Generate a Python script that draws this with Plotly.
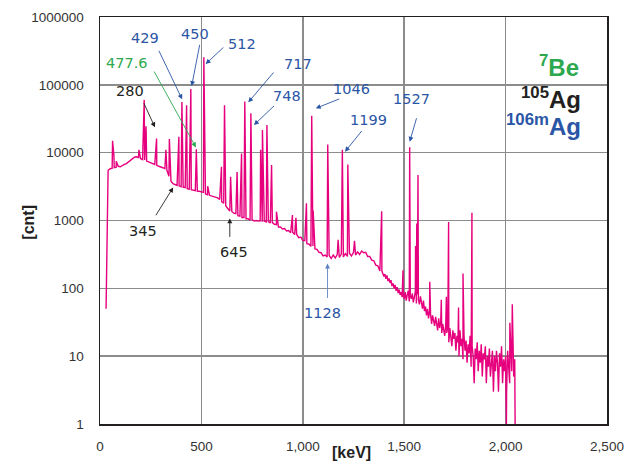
import plotly.graph_objects as go

# ---------------- data ----------------
# continuum channels: every 10 keV up to 1390, every 5 keV above
cont_kev = list(range(30, 1400, 10)) + list(range(1400, 2050, 5))
cont_cnt = [
    50, 5500, 5800, 5900, 6000, 6100, 6300, 6200, 6500, 6700,        # 30-120
    6900, 7300, 7600, 8000, 8600, 8700, 8500, 8200, 7900, 7800,      # 130-220
    7500, 7300, 7100, 6900, 6700, 6500, 6300, 6200, 6000, 5800,      # 230-320
    5500, 4500, 3800, 3500, 3400, 3300, 3250, 3150, 3100, 3050,      # 330-420
    2950, 2900, 2850, 2800, 2750, 2700, 2700, 2650, 2600, 2450,      # 430-520
    2400, 2350, 2300, 2250, 2200, 2150, 2050, 1900, 1800, 1650,      # 530-620
    1500, 1380, 1360, 1280, 1260, 1180, 1160, 1110, 1110, 1060,      # 630-720
    1060, 1010, 1030, 980, 1000, 980, 990, 960, 980, 950,            # 730-820
    960, 920, 930, 880, 870, 800, 800, 750, 760, 700,                # 830-920
    710, 660, 670, 620, 620, 560, 570, 510, 505, 455,                # 930-1020
    450, 415, 420, 380, 375, 340, 335, 300, 310, 290,                # 1030-1120
    305, 275, 310, 280, 315, 285, 320, 290, 325, 295,                # 1130-1220
    330, 300, 340, 310, 345, 315, 355, 335, 340, 295,                # 1230-1320
    295, 260, 255, 220, 215, 180, 180,                               # 1330-1390
    150, 162, 138, 155, 128, 140, 120, 132, 108, 118,                # 1400-1445
    100, 112, 92, 104, 85, 96, 80, 88, 74, 84,                       # 1450-1495
    70, 88, 66, 80, 92, 64, 78, 70, 84, 62,                          # 1500-1545
    74, 90, 60, 82, 68, 58, 76, 62, 50, 66,                          # 1550-1595
    46, 54, 40, 50, 36, 46, 42, 30, 40, 34,                          # 1600-1645
    28, 38, 30, 24, 36, 26, 32, 22, 30, 24,                          # 1650-1695
    20, 30, 22, 28, 16, 26, 20, 14, 24, 18,                          # 1700-1745
    22, 12, 20, 16, 10, 24, 14, 18, 9, 20,                           # 1750-1795
    12, 17, 8, 15, 11, 20, 7, 14, 10, 4,                             # 1800-1845
    13, 9, 16, 6, 12, 8, 15, 5, 11, 9,                               # 1850-1895
    14, 4, 10, 7, 13, 5, 9, 12, 3, 10,                               # 1900-1945
    6, 12, 8, 3, 11, 7, 14, 4, 9, 6,                                 # 1950-1995
    10, 3, 12, 7, 4, 13, 6, 18, 5, 9,                                # 2000-2045
]

# photopeaks (energy keV, peak counts)
peak_kev = [62, 69, 80, 192, 218, 227, 279, 325, 342, 389, 404, 427, 448,
            475, 512, 531, 599, 614, 644, 676, 698, 714, 744, 792, 801, 823,
            846, 870, 949, 966, 1018, 1044, 1051, 1123, 1174, 1195, 1222,
            1255, 1389, 1494, 1527, 1556, 1562, 1568, 1626, 1683, 1708, 1719,
            1768, 1790, 1834, 2021, 2033]
peak_cnt = [15000, 8700, 7500, 11000, 60000, 24500, 16200, 11000, 15900,
            17200, 56000, 50000, 87000, 11200, 254000, 3200, 6200, 50000,
            4400, 5200, 9700, 57000, 38000, 11000, 21600, 25600, 6600, 1350,
            1200, 1100, 1800, 35000, 1400, 13200, 520, 11000, 6700, 500, 1370,
            185, 12000, 420, 900, 4700, 125, 68, 75, 950, 52, 165, 1300, 31, 58]

# deep dips at the high-energy end
dip_kev = [2004, 2047]
dip_cnt = [1, 1]

x_ticks = [0, 500, 1000, 1500, 2000, 2500]
x_ticktext = ["0", "500", "1,000", "1,500", "2,000", "2,500"]
y_ticks = [1, 10, 100, 1000, 10000, 100000, 1000000]
y_ticktext = ["1", "10", "100", "1000", "10000", "100000", "1000000"]

# ---------------- build spectrum ----------------
pts = sorted(zip(cont_kev + peak_kev + dip_kev, cont_cnt + peak_cnt + dip_cnt),
             key=lambda p: p[0])
xs = [p[0] for p in pts]
ys = [p[1] for p in pts]

fig = go.Figure()
fig.add_trace(go.Scatter(x=xs, y=ys, mode="lines",
                         line=dict(color="#E6007E", width=1.4),
                         showlegend=False, hoverinfo="skip"))

BLUE = "#2B55A5"
GREEN = "#2EA84F"
DARK = "#231F20"
LBLUE = "#5A82C4"
FONT = "DejaVu Sans"

# text labels: (text, x keV, log10 y, color)
labels = [
    ("429", 222, 5.690, BLUE),
    ("450", 468, 5.749, BLUE),
    ("512", 700, 5.602, BLUE),
    ("477.6", 133, 5.322, GREEN),
    ("280", 148, 4.909, DARK),
    ("717", 975, 5.307, BLUE),
    ("748", 921, 4.835, BLUE),
    ("1046", 1241, 4.938, BLUE),
    ("1199", 1325, 4.481, BLUE),
    ("1527", 1537, 4.791, BLUE),
    ("345", 212, 2.844, DARK),
    ("645", 660, 2.534, DARK),
    ("1128", 1098, 1.634, BLUE),
]
for t, x, y, c in labels:
    fig.add_annotation(x=x, y=y, xref="x", yref="y", text=t, showarrow=False,
                       font=dict(family=FONT, size=14.5, color=c),
                       xanchor="center", yanchor="middle")

# arrows: (tail x, tail y, head x, head y, color)
arrows = [
    (287, 5.524, 405, 4.786, BLUE),
    (493, 5.612, 452, 4.982, BLUE),
    (616, 5.572, 521, 5.307, BLUE),
    (263, 5.218, 473, 4.078, GREEN),
    (213, 4.751, 271, 4.373, DARK),
    (862, 5.204, 731, 4.742, BLUE),
    (866, 4.712, 759, 4.407, BLUE),
    (1187, 4.801, 1064, 4.653, BLUE),
    (1297, 4.344, 1208, 4.013, BLUE),
    (1563, 4.530, 1527, 4.161, BLUE),
    (271, 3.055, 361, 3.488, DARK),
    (640, 2.736, 640, 3.031, DARK),
    (1122, 1.836, 1122, 2.367, LBLUE),
]
for ax, ay, hx, hy, c in arrows:
    fig.add_annotation(x=hx, y=hy, ax=ax, ay=ay, xref="x", yref="y",
                       axref="x", ayref="y", text="", showarrow=True,
                       arrowhead=2, arrowsize=1.1, arrowwidth=0.9,
                       arrowcolor=c)

# isotope legend texts
iso = [
    ("<b><sup>7</sup>Be</b>", 0.948, 0.880, GREEN),
    ("<b><sup>105</sup>Ag</b>", 0.952, 0.801, DARK),
    ("<b><sup>106m</sup>Ag</b>", 0.952, 0.735, BLUE),
]
for t, x, y, c in iso:
    fig.add_annotation(x=x, y=y, xref="paper", yref="paper", text=t,
                       showarrow=False, xanchor="right", yanchor="middle",
                       font=dict(family="Liberation Sans", size=24, color=c))

# axis titles
fig.add_annotation(x=-0.1616, y=0.496, xref="paper", yref="paper",
                   text="<b>[cnt]</b>", textangle=-90, showarrow=False,
                   font=dict(family="Liberation Sans", size=16, color=DARK))
fig.add_annotation(x=0.4966, y=-0.096, xref="paper", yref="paper",
                   text="<b>[keV]</b>", showarrow=False,
                   font=dict(family="Liberation Sans", size=16, color=DARK))

fig.update_layout(
    width=624, height=474,
    margin=dict(l=100, r=16.5, t=17, b=50),
    paper_bgcolor="white", plot_bgcolor="white",
    font=dict(family="Liberation Sans", color="#333333"),
)
fig.update_xaxes(range=[0, 2500], tickvals=x_ticks, ticktext=x_ticktext,
                 showgrid=True, gridcolor="#8C8C8C", gridwidth=1.5,
                 showline=True, linecolor="#231F20", linewidth=1.5, mirror=True,
                 ticks="outside", ticklen=9, tickcolor="rgba(0,0,0,0)",
                 tickfont=dict(size=13.5, color="#333333"), zeroline=False,
                 ticklabeloverflow="allow", automargin=False)
fig.update_yaxes(type="log", range=[0, 6], tickvals=y_ticks,
                 ticktext=y_ticktext,
                 showgrid=True, gridcolor="#8C8C8C", gridwidth=1.5,
                 showline=True, linecolor="#231F20", linewidth=1.5, mirror=True,
                 ticks="outside", ticklen=12, tickcolor="rgba(0,0,0,0)",
                 tickfont=dict(size=13.5, color="#333333"), zeroline=False,
                 ticklabeloverflow="allow", automargin=False)

# remove the default page margin so the figure fills the 624x474 window
fig.write_html("out.html",
               config={"displayModeBar": False, "staticPlot": True},
               post_script="document.body.style.margin='0';"
                           "document.documentElement.style.overflow='hidden';")
